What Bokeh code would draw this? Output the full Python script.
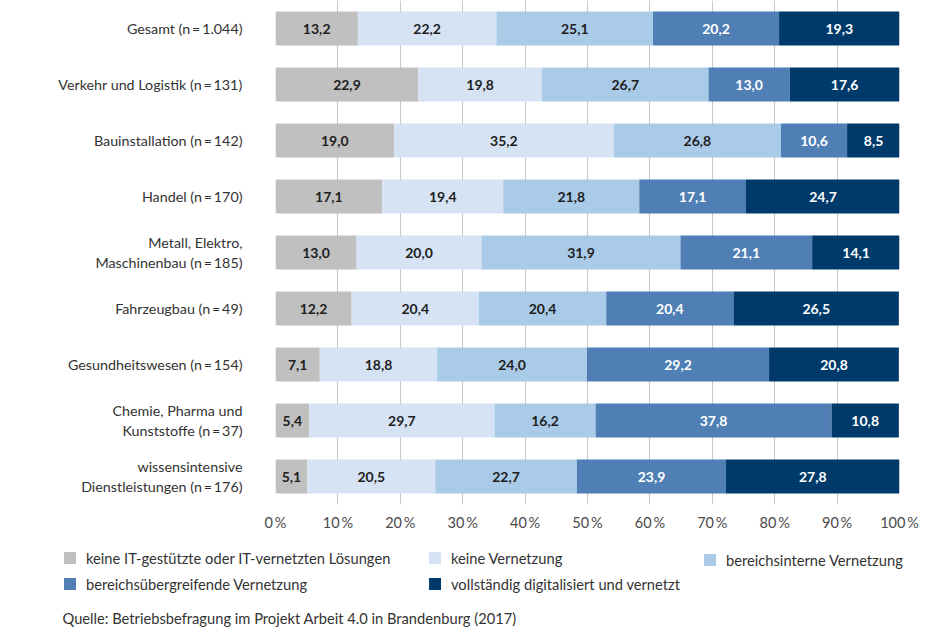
from bokeh.plotting import figure
from bokeh.layouts import column
from bokeh.models import ColumnDataSource, Legend, LegendItem, Label, FactorRange
from bokeh.core.properties import value
from bokeh.embed import file_html
from bokeh.resources import INLINE

categories = [
    "Gesamt (n\u2009=\u20091.044)",
    "Verkehr und Logistik (n\u2009=\u2009131)",
    "Bauinstallation (n\u2009=\u2009142)",
    "Handel (n\u2009=\u2009170)",
    "Metall, Elektro,\nMaschinenbau (n\u2009=\u2009185)",
    "Fahrzeugbau (n\u2009=\u200949)",
    "Gesundheitswesen (n\u2009=\u2009154)",
    "Chemie, Pharma und\nKunststoffe (n\u2009=\u200937)",
    "wissensintensive\nDienstleistungen (n\u2009=\u2009176)",
]
series_names = [
    "keine IT-gestützte oder IT-vernetzten Lösungen",
    "keine Vernetzung",
    "bereichsinterne Vernetzung",
    "bereichsübergreifende Vernetzung",
    "vollständig digitalisiert und vernetzt",
]
keine_it = [13.2, 22.9, 19.0, 17.1, 13.0, 12.2, 7.1, 5.4, 5.1]
keine_vernetzung = [22.2, 19.8, 35.2, 19.4, 20.0, 20.4, 18.8, 29.7, 20.5]
bereichsintern = [25.1, 26.7, 26.8, 21.8, 31.9, 20.4, 24.0, 16.2, 22.7]
bereichsuebergreifend = [20.2, 13.0, 10.6, 17.1, 21.1, 20.4, 29.2, 37.8, 23.9]
vollstaendig = [19.3, 17.6, 8.5, 24.7, 14.1, 26.5, 20.8, 10.8, 27.8]
tick_values = [0, 10, 20, 30, 40, 50, 60, 70, 80, 90, 100]
tick_labels = ["0\u2009%", "10\u2009%", "20\u2009%", "30\u2009%", "40\u2009%", "50\u2009%",
               "60\u2009%", "70\u2009%", "80\u2009%", "90\u2009%", "100\u2009%"]
source_text = "Quelle: Betriebsbefragung im Projekt Arbeit 4.0 in Brandenburg (2017)"

colors = ["#c0c0c0", "#d5e3f4", "#a9cbe8", "#4f7fb5", "#003a6b"]
label_colors = ["#1e1e1e", "#1e1e1e", "#1e1e1e", "#ffffff", "#ffffff"]
FONT = "Lato"

series = [keine_it, keine_vernetzung, bereichsintern, bereichsuebergreifend, vollstaendig]
keys = ["s0", "s1", "s2", "s3", "s4"]
data = {"cat": categories}
for k, s in zip(keys, series):
    data[k] = s
src = ColumnDataSource(data)

p = figure(width=939, height=545,
           y_range=FactorRange(*list(reversed(categories)), range_padding=0),
           x_range=(0, 100),
           output_backend="svg", toolbar_location=None,
           min_border_left=275, min_border_right=40, min_border_top=0, min_border_bottom=41)
p.frame_align = False
p.outline_line_color = None
p.background_fill_color = "white"
p.border_fill_color = "white"

renderers = p.hbar_stack(keys, y="cat", height=0.607, color=colors, line_color=None, source=src)

for i, (k, s) in enumerate(zip(keys, series)):
    lefts = [sum(vals[:i]) for vals in zip(*series)]
    xs = [l + v / 2 for l, v in zip(lefts, s)]
    labels = [f"{v:.1f}".replace(".", ",") for v in s]
    p.text(x=xs, y=categories, text=labels, text_align="center", text_baseline="middle",
           text_font=value(FONT), text_font_style="bold", text_font_size="14px",
           text_color=label_colors[i])

p.xgrid.grid_line_color = "#c8c8c8"
p.ygrid.grid_line_color = None

xa = p.xaxis[0]
xa.ticker = tick_values
xa.major_label_overrides = {v: l for v, l in zip(tick_values, tick_labels)}
xa.axis_line_color = None
xa.major_tick_line_color = None
xa.minor_tick_line_color = None
xa.major_label_text_font = FONT
xa.major_label_text_font_size = "14.5px"
xa.major_label_text_color = "#4a4a4a"
xa.major_label_standoff = 3

ya = p.yaxis[0]
ya.axis_line_color = None
ya.major_tick_line_color = None
ya.minor_tick_line_color = None
ya.major_label_text_font = FONT
ya.major_label_text_font_size = "14.3px"
ya.major_label_text_color = "#333333"
ya.major_label_standoff = 27

# legend + source panel
H2 = 94
p2 = figure(width=939, height=H2, x_range=(0, 939), y_range=(0, H2),
            output_backend="svg", toolbar_location=None,
            x_axis_location=None, y_axis_location=None, min_border=0)
p2.frame_align = False
p2.outline_line_color = None
p2.grid.visible = False
p2.background_fill_color = "white"
p2.border_fill_color = "white"

# legend swatches: one off-screen bar per series colour
dummies = [p2.hbar(y=[-1000], right=[1], height=1, fill_color=c, line_color=None) for c in colors]
items = [LegendItem(label=n, renderers=[r]) for n, r in zip(series_names, dummies)]

def make_legend(its, loc):
    lg = Legend(items=its, location=loc, orientation="vertical",
                padding=0, margin=0, spacing=8, glyph_width=15, glyph_height=15,
                label_height=16, label_standoff=9,
                label_text_font=FONT, label_text_font_size="14.7px", label_text_color="#333333",
                border_line_color=None, background_fill_alpha=0)
    p2.add_layout(lg, "center")
    return lg

make_legend([items[0], items[3]], (62, H2 - 47.5))
make_legend([items[1], items[4]], (427, H2 - 47.5))
make_legend([items[2]], (702, H2 - 23.5))

p2.add_layout(Label(x=62, y=H2 - 72, x_units="screen", y_units="screen",
                    text=source_text, text_font=FONT, text_font_size="14.7px",
                    text_color="#333333", text_baseline="middle"))

layout = column(p, p2, spacing=0)
open("out.html", "w").write(file_html(layout, INLINE))
